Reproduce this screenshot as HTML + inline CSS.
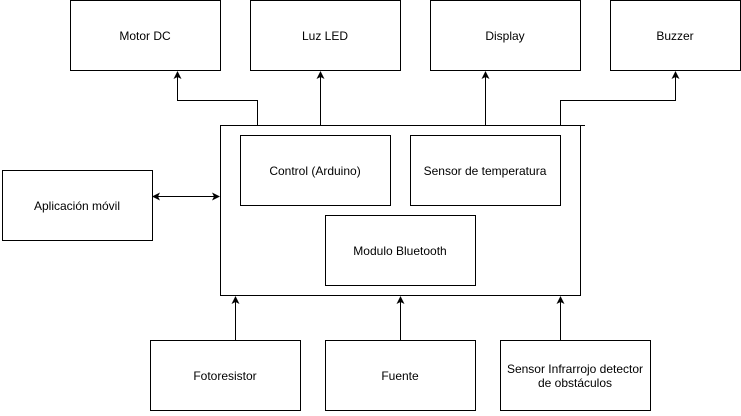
<!DOCTYPE html>
<html><head><style>body{margin:0;background:#fff}</style></head><body>
<svg width="741" height="411" xmlns="http://www.w3.org/2000/svg" font-family="Liberation Sans, Arial, sans-serif" font-size="12">
<defs><marker id="a" markerWidth="8" markerHeight="8" refX="7" refY="4" orient="auto" markerUnits="userSpaceOnUse"><path d="M0,0 L8,4 L0,8 L2,4z" fill="#000"/></marker>
<marker id="s" markerWidth="8" markerHeight="8" refX="1" refY="4" orient="auto" markerUnits="userSpaceOnUse"><path d="M8,0 L0,4 L8,8 L6,4z" fill="#000"/></marker></defs>
<g fill="#fff" stroke="#000" stroke-width="1">
<rect x="70.5" y="0.5" width="150" height="70"/>
<rect x="250.5" y="0.5" width="150" height="70"/>
<rect x="430.5" y="0.5" width="150" height="70"/>
<rect x="610.5" y="0.5" width="130" height="70"/>
<rect x="2.5" y="170.5" width="150" height="70"/>
<rect x="220.5" y="125.5" width="360" height="170"/>
<rect x="240.5" y="135.5" width="150" height="70"/>
<rect x="410.5" y="135.5" width="150" height="70"/>
<rect x="325.5" y="215.5" width="150" height="70"/>
<rect x="150.5" y="340.5" width="150" height="70"/>
<rect x="325.5" y="340.5" width="150" height="70"/>
<rect x="500.5" y="340.5" width="150" height="70"/>
</g>
<g fill="none" stroke="#000">
<line x1="580" y1="125.5" x2="585" y2="125.5"/>
<polyline points="257.5,125 257.5,100.5 177.5,100.5 177.5,72" marker-end="url(#a)"/>
<line x1="320.5" y1="125" x2="320.5" y2="72" marker-end="url(#a)"/>
<line x1="485.5" y1="125" x2="485.5" y2="72" marker-end="url(#a)"/>
<polyline points="560.5,125 560.5,100.5 675.5,100.5 675.5,72" marker-end="url(#a)"/>
<line x1="153" y1="196.5" x2="219" y2="196.5" marker-start="url(#s)" marker-end="url(#a)"/>
<line x1="235.5" y1="340" x2="235.5" y2="297" marker-end="url(#a)"/>
<line x1="400.5" y1="340" x2="400.5" y2="297" marker-end="url(#a)"/>
<line x1="560.5" y1="340" x2="560.5" y2="297" marker-end="url(#a)"/>
</g>
<g text-anchor="middle" fill="#000">
<text x="145" y="40">Motor DC</text>
<text x="325" y="40">Luz LED</text>
<text x="505" y="40">Display</text>
<text x="675" y="40">Buzzer</text>
<text x="77" y="210">Aplicación móvil</text>
<text x="315" y="175">Control (Arduino)</text>
<text x="485" y="175">Sensor de temperatura</text>
<text x="400" y="255">Modulo Bluetooth</text>
<text x="225" y="380">Fotoresistor</text>
<text x="400" y="380">Fuente</text>
<text x="575" y="373">Sensor Infrarrojo detector</text>
<text x="575" y="387">de obstáculos</text>
</g>
</svg>
</body></html>
